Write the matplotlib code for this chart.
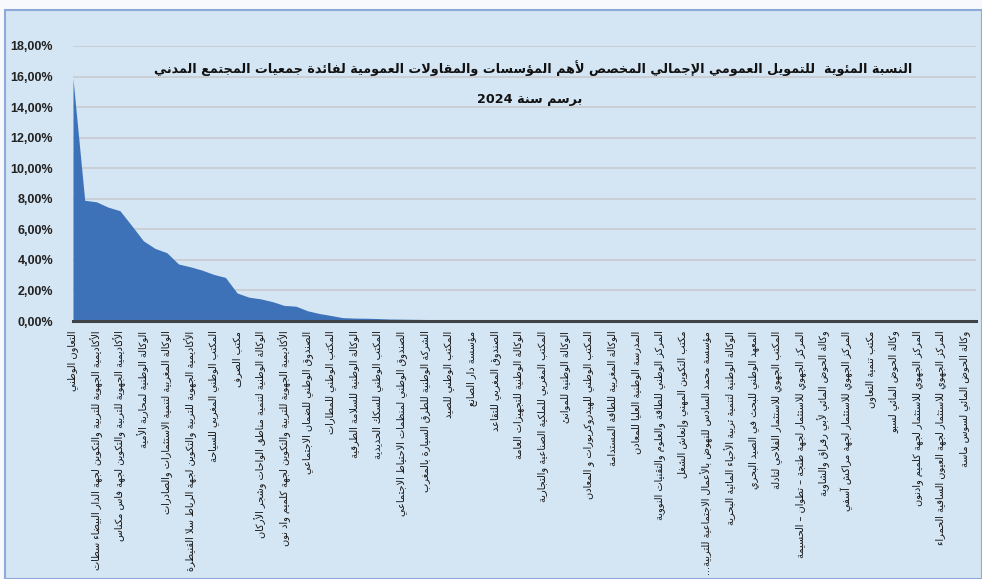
import re
import numpy as np
import matplotlib
matplotlib.use("Agg")
import matplotlib.pyplot as plt
from matplotlib.patches import Rectangle
from matplotlib.ticker import FuncFormatter
from matplotlib import font_manager

# ---------------- data ----------------
title_line1 = "النسبة المئوية  للتمويل العمومي الإجمالي المخصص لأهم المؤسسات والمقاولات العمومية لفائدة جمعيات المجتمع المدني"
title_line2 = "برسم سنة 2024"

categories = [
    "التعاون الوطني",
    "الأكاديمية الجهوية للتربية والتكوين لجهة الدار البيضاء سطات",
    "الأكاديمية الجهوية للتربية والتكوين لجهة فاس مكناس",
    "الوكالة الوطنية لمحاربة الأمية",
    "الوكالة المغربية لتنمية الاستثمارات والصادرات",
    "الأكاديمية الجهوية للتربية والتكوين لجهة الرباط سلا القنيطرة",
    "المكتب الوطني المغربي للسياحة",
    "مكتب الصرف",
    "الوكالة الوطنية لتنمية مناطق الواحات وشجر الأركان",
    "الأكاديمية الجهوية للتربية والتكوين لجهة كلميم واد نون",
    "الصندوق الوطني للضمان الاجتماعي",
    "المكتب الوطني للمطارات",
    "الوكالة الوطنية للسلامة الطرقية",
    "المكتب الوطني للسكك الحديدية",
    "الصندوق الوطني لمنظمات الاحتياط الاجتماعي",
    "الشركة الوطنية للطرق السيارة بالمغرب",
    "المكتب الوطني للصيد",
    "مؤسسة دار الصانع",
    "الصندوق المغربي للتقاعد",
    "الوكالة الوطنية للتجهيزات العامة",
    "المكتب المغربي للملكية الصناعية والتجارية",
    "الوكالة الوطنية للموانئ",
    "المكتب الوطني للهيدروكربورات و المعادن",
    "الوكالة المغربية للطاقة المستدامة",
    "المدرسة الوطنية العليا للمعادن",
    "المركز الوطني للطاقة والعلوم والتقنيات النووية",
    "مكتب التكوين المهني وإنعاش الشغل",
    "مؤسسة محمد السادس للنهوض بالأعمال الاجتماعية للتربية...",
    "الوكالة الوطنية لتنمية تربية الأحياء المائية البحرية",
    "المعهد الوطني للبحث في الصيد البحري",
    "المكتب الجهوي للاستثمار الفلاحي لتادلة",
    "المركز الجهوي للاستثمار لجهة طنجة – تطوان – الحسيمة",
    "وكالة الحوض المائي لأبي رقراق والشاوية",
    "المركز الجهوي للاستثمار لجهة مراكش آسفي",
    "مكتب تنمية التعاون",
    "وكالة الحوض المائي لسبو",
    "المركز الجهوي للاستثمار لجهة كلميم وادنون",
    "المركز الجهوي للاستثمار لجهة العيون الساقية الحمراء",
    "وكالة الحوض المائي لسوس ماسة",
]

# percentage share for every institution (only every second one is labelled on the axis)
values = [
    15.85, 7.90, 7.80, 7.45, 7.22, 6.25, 5.25, 4.75, 4.47, 3.73,
    3.55, 3.33, 3.05, 2.85, 1.83, 1.56, 1.45, 1.27, 1.02, 0.97,
    0.67, 0.49, 0.36, 0.22, 0.19, 0.18, 0.16, 0.13, 0.12, 0.11,
    0.10, 0.09, 0.08, 0.07, 0.06, 0.05, 0.04, 0.03, 0.03, 0.02,
    0.02, 0.02, 0.01, 0.01, 0.01, 0.01, 0.01, 0.01, 0.01, 0.01,
    0.005, 0.005, 0.005, 0.005, 0.005, 0.004, 0.004, 0.004, 0.003, 0.003,
    0.003, 0.002, 0.002, 0.002, 0.002, 0.001, 0.001, 0.001, 0.001, 0.001,
    0.001, 0.001, 0.0005, 0.0005, 0.0005, 0.0003, 0.0002, 0.0001,
]

y_ticks = [0, 2, 4, 6, 8, 10, 12, 14, 16, 18]

# ---------------- minimal Arabic shaping (presentation forms + RTL order) ----------------
_FORM_TABLE = [
    ('\u0621', 0xFE80, 1), ('\u0622', 0xFE81, 2), ('\u0623', 0xFE83, 2), ('\u0624', 0xFE85, 2),
    ('\u0625', 0xFE87, 2), ('\u0626', 0xFE89, 4), ('\u0627', 0xFE8D, 2), ('\u0628', 0xFE8F, 4),
    ('\u0629', 0xFE93, 2), ('\u062A', 0xFE95, 4), ('\u062B', 0xFE99, 4), ('\u062C', 0xFE9D, 4),
    ('\u062D', 0xFEA1, 4), ('\u062E', 0xFEA5, 4), ('\u062F', 0xFEA9, 2), ('\u0630', 0xFEAB, 2),
    ('\u0631', 0xFEAD, 2), ('\u0632', 0xFEAF, 2), ('\u0633', 0xFEB1, 4), ('\u0634', 0xFEB5, 4),
    ('\u0635', 0xFEB9, 4), ('\u0636', 0xFEBD, 4), ('\u0637', 0xFEC1, 4), ('\u0638', 0xFEC5, 4),
    ('\u0639', 0xFEC9, 4), ('\u063A', 0xFECD, 4), ('\u0641', 0xFED1, 4), ('\u0642', 0xFED5, 4),
    ('\u0643', 0xFED9, 4), ('\u0644', 0xFEDD, 4), ('\u0645', 0xFEE1, 4), ('\u0646', 0xFEE5, 4),
    ('\u0647', 0xFEE9, 4), ('\u0648', 0xFEED, 2), ('\u0649', 0xFEEF, 2), ('\u064A', 0xFEF1, 4),
]
FORMS = {c: (s, n) for c, s, n in _FORM_TABLE}
LAMALEF = {'\u0622': 0xFEF5, '\u0623': 0xFEF7, '\u0625': 0xFEF9, '\u0627': 0xFEFB}


def ar(s):
    toks = []
    i = 0
    while i < len(s):
        c = s[i]
        if c == '\u0644' and i + 1 < len(s) and s[i + 1] in LAMALEF:
            toks.append(('LA', s[i + 1]))
            i += 2
        else:
            toks.append(c)
            i += 1

    def joining(t):
        return isinstance(t, tuple) or (t in FORMS and t != '\u0621')

    def dual(t):
        return (not isinstance(t, tuple)) and t in FORMS and FORMS[t][1] == 4

    out = []
    for k, t in enumerate(toks):
        if not isinstance(t, tuple) and t not in FORMS:
            out.append(t)
            continue
        if t == '\u0621':
            out.append(chr(0xFE80))
            continue
        prev = k > 0 and dual(toks[k - 1])
        nxt = dual(t) and k + 1 < len(toks) and joining(toks[k + 1])
        if isinstance(t, tuple):
            out.append(chr(LAMALEF[t[1]] + (1 if prev else 0)))
        else:
            start, n = FORMS[t]
            if n == 4:
                idx = 3 if (prev and nxt) else (1 if prev else (2 if nxt else 0))
            else:
                idx = 1 if prev else 0
            out.append(chr(start + idx))
    vis = ''.join(out)[::-1]
    vis = re.sub(r'[0-9A-Za-z%]+', lambda m: m.group(0)[::-1], vis)
    return vis


# ---------------- figure ----------------
W, H = 982, 579
BG = '#D4E5F3'
fig = plt.figure(figsize=(W / 100, H / 100), dpi=100, facecolor='#F7F9FC')
fig.patches.append(Rectangle((5 / W, 0), 1 - 5 / W, 1 - 10 / H, transform=fig.transFigure,
                             facecolor=BG, edgecolor='#8EAADB', linewidth=1.5, zorder=-10))

ax = fig.add_axes([73 / W, 1 - 321 / H, (976 - 73) / W, (321 - 46) / H])
ax.set_zorder(2)
ax.patch.set_alpha(0)

x = np.arange(len(values))
ax.fill_between(x, values, 0, color='#3D72B9', linewidth=0, zorder=2)

ax.set_xlim(0, len(values) - 1)
ax.set_ylim(0, 18)
ax.set_yticks(y_ticks)
ax.yaxis.set_major_formatter(FuncFormatter(lambda v, p: f"{v:.2f}%".replace('.', ',')))
ax.grid(axis='y', color='#C8CDD1', linewidth=1.3, zorder=1)
ax.set_axisbelow(True)

for s in ['top', 'right', 'left']:
    ax.spines[s].set_visible(False)
ax.spines['bottom'].set_color('#3F4347')
ax.spines['bottom'].set_linewidth(2.2)
ax.spines['bottom'].set_zorder(3)

names = {f.name for f in font_manager.fontManager.ttflist}
yfam = ['Liberation Sans Narrow', 'DejaVu Sans'] if 'Liberation Sans Narrow' in names else ['Liberation Sans', 'DejaVu Sans']
ax.tick_params(axis='y', length=0, pad=14.4, labelcolor='#222222')
for lab in ax.get_yticklabels():
    lab.set_fontweight('bold')
    lab.set_fontsize(9)
    lab.set_family(yfam)

ax.set_xticks(x[::2])
ax.set_xticklabels([ar(c) for c in categories], rotation=90, fontsize=7,
                   color='#141414', family='DejaVu Sans')
ax.tick_params(axis='x', length=0, pad=7)

fig.text(533 / W, 1 - 68 / H, ar(title_line1), ha='center', va='center',
         fontsize=9.2, fontweight='bold', color='#111111', family='DejaVu Sans', zorder=5)
fig.text(530 / W, 1 - 100 / H, ar(title_line2), ha='center', va='center',
         fontsize=9.2, fontweight='bold', color='#111111', family='DejaVu Sans', zorder=5)

fig.savefig('out.png', dpi=100, facecolor=fig.get_facecolor())
